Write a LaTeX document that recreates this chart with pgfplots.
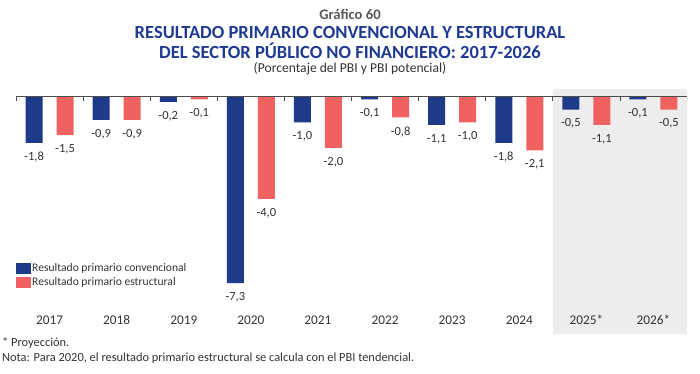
\documentclass[border=0pt]{standalone}
\usepackage{fontspec}
\setmainfont{Carlito}
\usepackage{pgfplots}
\pgfplotsset{compat=1.18}
\definecolor{cblue}{HTML}{1F3A89}
\definecolor{cred}{HTML}{F06262}
\definecolor{ctitle}{HTML}{1F3A93}
\definecolor{cshade}{HTML}{EDEDED}
\definecolor{ctext}{HTML}{333333}
\definecolor{cgraf}{HTML}{595959}
\begin{document}
\begin{tikzpicture}
\begin{axis}[
  set layers,
  scale only axis,
  width=671pt, height=244.8pt,
  xmin=-0.5, xmax=9.5, ymin=-9.3, ymax=0.3,
  ybar=14pt, bar width=17pt,
  axis line style={draw=none}, major tick length=0pt, ytick=\empty,
  xtick={0,1,2,3,4,5,6,7,8,9},
  xticklabels={2017,2018,2019,2020,2021,2022,2023,2024,2025*,2026*},
  typeset ticklabels with strut,
  xticklabel shift=-23.5pt,
  xticklabel style={font=\fontsize{13.3}{15}\selectfont, text=ctext},
  nodes near coords,
  nodes near coords style={anchor=north, inner sep=2pt, yshift=-7pt, font=\fontsize{12.5}{14}\selectfont, text=ctext},
  /pgf/number format/fixed, /pgf/number format/fixed zerofill,
  /pgf/number format/precision=1, /pgf/number format/use comma,
  /pgf/number format/assume math mode=true,
  legend style={at={(axis cs:-0.5,-7.0)}, anchor=west, draw=none, fill=none, inner sep=0pt,
    font=\fontsize{11.6}{13.5}\selectfont, text=ctext, cells={anchor=west}, row sep=2pt,
    nodes={inner sep=1pt}},
]
\begin{pgfonlayer}{axis background}
\fill[cshade] (axis cs:7.5,-9.3) rectangle (axis cs:9.5,0.3);
\end{pgfonlayer}
\addplot[fill=cblue, draw=none, legend image code/.code={\fill[cblue] (0pt,-5.5pt) rectangle (15pt,5.5pt);}] coordinates {
(0,-1.8) (1,-0.9) (2,-0.2) (3,-7.3) (4,-1.0) (5,-0.1) (6,-1.1) (7,-1.8) (8,-0.5) (9,-0.1)};
\addlegendentry{Resultado primario convencional}
\addplot[fill=cred, draw=none, legend image code/.code={\fill[cred] (0pt,-5.5pt) rectangle (15pt,5.5pt);}] coordinates {
(0,-1.5) (1,-0.9) (2,-0.1) (3,-4.0) (4,-2.0) (5,-0.8) (6,-1.0) (7,-2.1) (8,-1.1) (9,-0.5)};
\addlegendentry{Resultado primario estructural}
\draw[color=gray!60!black, line width=0.8pt] (axis cs:-0.5,0) -- (axis cs:9.5,0);
\pgfplotsinvokeforeach{-0.5,0.5,1.5,2.5,3.5,4.5,5.5,6.5,7.5,8.5,9.5}{
  \draw[color=gray!60!black, line width=0.8pt] (axis cs:#1,0) -- ++(0pt,-4pt);
}
\end{axis}
\begin{scope}[x=1pt,y=1pt]
\useasboundingbox (-16,-39) rectangle (684,334);
\node[font=\bfseries\fontsize{14.6}{16}\selectfont, text=cgraf] at (334,334-14) {Gráfico 60};
\node[font=\bfseries\fontsize{18.5}{21}\selectfont, text=ctitle] at (334,334-33) {RESULTADO PRIMARIO CONVENCIONAL Y ESTRUCTURAL};
\node[font=\bfseries\fontsize{18.5}{21}\selectfont, text=ctitle] at (334,334-51) {DEL SECTOR PÚBLICO NO FINANCIERO: 2017-2026};
\node[font=\fontsize{13.6}{15}\selectfont, text=ctext] at (334,334-69) {(Porcentaje del PBI y PBI potencial)};
\node[anchor=west, inner sep=0pt, font=\fontsize{12.4}{14}\selectfont, text=ctext] at (-14,334-343) {* Proyección.};
\node[anchor=west, inner sep=0pt, font=\fontsize{12.4}{14}\selectfont, text=ctext] at (-14,334-358) {Nota: Para 2020, el resultado primario estructural se calcula con el PBI tendencial.};
\end{scope}
\end{tikzpicture}
\end{document}
